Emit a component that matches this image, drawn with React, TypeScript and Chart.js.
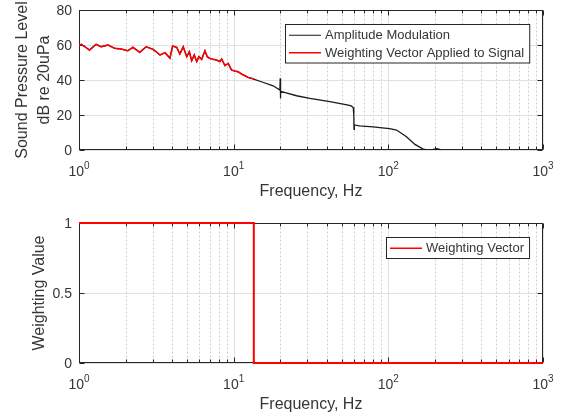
import React, { useEffect, useRef } from "react";
import { Chart, registerables } from "chart.js";

Chart.register(...registerables);

// ---- data ----
// Weighted part of the spectrum (1 Hz .. 13.6 Hz), shown in red
const lowFreqHz = [
  1.0, 1.035, 1.09, 1.17, 1.29, 1.39, 1.54, 1.7, 1.88, 2.07, 2.23, 2.47, 2.72, 3.01, 3.1, 3.34,
  3.6, 3.87, 4.03, 4.28, 4.49, 4.72, 4.97, 5.17, 5.35, 5.56, 5.77, 5.96, 6.21, 6.52, 6.75, 7.01,
  7.37, 7.75, 7.95, 8.15, 8.36, 8.78, 9.22, 9.69, 10.2, 10.7, 11.3, 11.8, 12.4, 13.0, 13.6,
];
const lowLevelDb = [
  59.6, 60.4, 59.0, 57.1, 60.4, 59.0, 60.0, 58.1, 57.7, 56.7, 58.7, 55.8, 59.0, 57.5, 56.7, 54.3,
  55.6, 52.5, 59.4, 58.7, 54.9, 59.0, 53.3, 56.2, 51.0, 54.3, 50.5, 53.3, 51.8, 56.7, 53.3, 52.4,
  51.8, 51.4, 50.9, 50.5, 52.0, 48.2, 49.5, 45.7, 45.1, 44.7, 43.3, 42.5, 41.5, 41.0, 40.4,
];
// Rest of the amplitude-modulation spectrum (13.6 Hz .. 220 Hz)
const highFreqHz = [
  15.1, 18.0, 19.9, 20.0, 20.05, 20.15, 25.5, 31.1, 41.9, 55.1, 57.5, 59.3, 59.8, 60.0, 60.3,
  65.0, 80.0, 88.0, 102, 113, 131, 148.6, 168, 180, 195, 206, 215, 220,
];
const highLevelDb = [
  39.0, 36.7, 34.3, 41.0, 29.5, 33.5, 31.0, 29.5, 27.6, 25.7, 25.2, 24.3, 20.0, 11.8, 14.3,
  13.8, 13.2, 12.8, 12.2, 11.4, 7.6, 3.2, 0.5, 0.0, 0.4, 0.8, 0.3, 0.0,
];
// Weighting vector
const weightFreqHz = [1, 13.5, 13.5, 1000];
const weightValue = [1, 1, 0, 0];

// Tick labels
const xDecadeTicks = [1, 10, 100, 1000];
const xTickExponents = ["0", "1", "2", "3"];
const splTicks = [0, 20, 40, 60, 80];
const splTickLabels = ["0", "20", "40", "60", "80"];
const weightTicks = [0, 0.5, 1];
const weightTickLabels = ["0", "0.5", "1"];

const FONT = '"Liberation Sans", Arial, Helvetica, sans-serif';
const TEXT = "#363636";
const AXIS = "#262626";

const toPoints = (xs: number[], ys: number[]) => xs.map((x, i) => ({ x, y: ys[i] }));

const matlabAxes = {
  id: "matlabAxes",
  beforeDatasetsDraw(chart: any, _args: any, opts: any) {
    const { ctx, chartArea: a, scales } = chart;
    const xs = scales.x;
    const ys = scales.y;
    const L = Math.round(a.left) + 0.5;
    const R = Math.round(a.right) - 0.5;
    const T = Math.round(a.top) + 0.5;
    const B = Math.round(a.bottom) - 0.5;
    ctx.save();
    ctx.fillStyle = "#ffffff";
    ctx.fillRect(a.left, a.top, a.width, a.height);
    ctx.lineWidth = 1;
    // minor dotted vertical grid
    const minors: number[] = [];
    for (const d of [1, 10, 100]) for (let k = 2; k <= 9; k++) minors.push(d * k);
    ctx.strokeStyle = "#cfcfcf";
    ctx.setLineDash([2, 2]);
    for (const v of minors) {
      const px = Math.round(xs.getPixelForValue(v)) + 0.5;
      ctx.beginPath();
      ctx.moveTo(px, T);
      ctx.lineTo(px, B);
      ctx.stroke();
    }
    ctx.setLineDash([]);
    // major grid
    ctx.strokeStyle = "#e0e0e0";
    for (const v of xDecadeTicks) {
      const px = Math.round(xs.getPixelForValue(v)) + 0.5;
      ctx.beginPath();
      ctx.moveTo(px, T);
      ctx.lineTo(px, B);
      ctx.stroke();
    }
    for (const v of opts.yTicks) {
      const py = Math.round(ys.getPixelForValue(v)) + 0.5;
      ctx.beginPath();
      ctx.moveTo(L, py);
      ctx.lineTo(R, py);
      ctx.stroke();
    }
    // ticks (inside)
    ctx.strokeStyle = AXIS;
    const major = 5;
    const minor = 3;
    for (const v of xDecadeTicks) {
      const px = Math.round(xs.getPixelForValue(v)) + 0.5;
      ctx.beginPath();
      ctx.moveTo(px, B);
      ctx.lineTo(px, B - major);
      ctx.moveTo(px, T);
      ctx.lineTo(px, T + major);
      ctx.stroke();
    }
    for (const v of minors) {
      const px = Math.round(xs.getPixelForValue(v)) + 0.5;
      ctx.beginPath();
      ctx.moveTo(px, B);
      ctx.lineTo(px, B - minor);
      ctx.moveTo(px, T);
      ctx.lineTo(px, T + minor);
      ctx.stroke();
    }
    for (const v of opts.yTicks) {
      const py = Math.round(ys.getPixelForValue(v)) + 0.5;
      ctx.beginPath();
      ctx.moveTo(L, py);
      ctx.lineTo(L + major, py);
      ctx.moveTo(R, py);
      ctx.lineTo(R - major, py);
      ctx.stroke();
    }
    // box
    ctx.strokeRect(L, T, R - L, B - T);
    ctx.restore();
  },
  afterDatasetsDraw(chart: any, _args: any, opts: any) {
    const { ctx, chartArea: a, scales } = chart;
    const xs = scales.x;
    const ys = scales.y;
    ctx.save();
    ctx.fillStyle = TEXT;
    // y tick labels
    ctx.font = `14px ${FONT}`;
    ctx.textAlign = "right";
    ctx.textBaseline = "middle";
    opts.yTicks.forEach((v: number, i: number) => {
      ctx.fillText(opts.yTickLabels[i], a.left - 7, ys.getPixelForValue(v) + 1);
    });
    // x tick labels 10^n
    ctx.textAlign = "left";
    ctx.textBaseline = "alphabetic";
    xDecadeTicks.forEach((v, i) => {
      ctx.font = `14px ${FONT}`;
      const w1 = ctx.measureText("10").width;
      ctx.font = `10px ${FONT}`;
      const w2 = ctx.measureText(xTickExponents[i]).width;
      const x0 = xs.getPixelForValue(v) - (w1 + w2) / 2;
      const by = a.bottom + 26;
      ctx.font = `14px ${FONT}`;
      ctx.fillText("10", x0, by);
      ctx.font = `10px ${FONT}`;
      ctx.fillText(xTickExponents[i], x0 + w1, by - 7);
    });
    // x title
    ctx.font = `16px ${FONT}`;
    ctx.textAlign = "center";
    ctx.fillText("Frequency, Hz", (a.left + a.right) / 2, a.bottom + 45.5);
    // y title (rotated)
    const cy = (a.top + a.bottom) / 2;
    opts.yTitle.forEach((line: string, i: number) => {
      ctx.save();
      ctx.translate(opts.yTitleX[i], cy);
      ctx.rotate(-Math.PI / 2);
      ctx.textAlign = "center";
      ctx.textBaseline = "alphabetic";
      ctx.fillText(line, 0, 0);
      ctx.restore();
    });
    // legend
    const items = opts.legend as { label: string; color: string; width: number }[];
    ctx.font = `13px ${FONT}`;
    const tw = Math.max(...items.map((it) => ctx.measureText(it.label).width));
    const rowH = 17.5;
    const bw = 4 + 32 + 4 + tw + 5;
    const bh = items.length * rowH + 3.5;
    const bx = Math.round(a.right - 14 - bw) + 0.5;
    const by = Math.round(a.top + 14) + 0.5;
    ctx.fillStyle = "#ffffff";
    ctx.fillRect(bx, by, bw, bh);
    ctx.strokeStyle = AXIS;
    ctx.lineWidth = 1;
    ctx.strokeRect(bx, by, bw, bh);
    items.forEach((it, i) => {
      const ry = by + 2 + rowH * (i + 0.5);
      ctx.strokeStyle = it.color;
      ctx.lineWidth = it.width;
      ctx.beginPath();
      ctx.moveTo(bx + 3.5, ry);
      ctx.lineTo(bx + 35.5, ry);
      ctx.stroke();
      ctx.fillStyle = TEXT;
      ctx.textAlign = "left";
      ctx.textBaseline = "middle";
      ctx.fillText(it.label, bx + 39.5, ry + 0.5);
    });
    ctx.restore();
  },
};

function useChart(ref: React.RefObject<HTMLCanvasElement>, build: () => any) {
  useEffect(() => {
    if (!ref.current) return;
    const chart = new Chart(ref.current, build());
    return () => chart.destroy();
  }, []);
}

export default function App() {
  const topRef = useRef<HTMLCanvasElement>(null);
  const botRef = useRef<HTMLCanvasElement>(null);

  useChart(topRef, () => ({
    type: "scatter",
    data: {
      datasets: [
        {
          label: "Amplitude Modulation",
          data: toPoints([...lowFreqHz, ...highFreqHz], [...lowLevelDb, ...highLevelDb]),
          showLine: true,
          borderColor: "#1a1a1a",
          borderWidth: 1.3,
          pointRadius: 0,
          order: 2,
        },
        {
          label: "Weighting Vector Applied to Signal",
          data: toPoints(lowFreqHz, lowLevelDb),
          showLine: true,
          borderColor: "#ff0000",
          borderWidth: 1.5,
          pointRadius: 0,
          order: 1,
        },
      ],
    },
    options: {
      responsive: false,
      animation: false,
      layout: { padding: { left: 79, right: 22, top: 10, bottom: 50 } },
      scales: {
        x: { type: "logarithmic", min: 1, max: 1000, display: false },
        y: { type: "linear", min: 0, max: 80, display: false },
      },
      plugins: {
        legend: { display: false },
        tooltip: { enabled: false },
        matlabAxes: {
          yTicks: splTicks,
          yTickLabels: splTickLabels,
          yTitle: ["Sound Pressure Level", "dB re 20uPa"],
          yTitleX: [26.5, 49],
          legend: [
            { label: "Amplitude Modulation", color: "#1a1a1a", width: 1 },
            { label: "Weighting Vector Applied to Signal", color: "#ff0000", width: 1.5 },
          ],
        },
      },
    },
    plugins: [matlabAxes],
  }));

  useChart(botRef, () => ({
    type: "scatter",
    data: {
      datasets: [
        {
          label: "Weighting Vector",
          data: toPoints(weightFreqHz, weightValue),
          showLine: true,
          borderColor: "#ff0000",
          borderWidth: 2,
          pointRadius: 0,
          clip: 3,
        },
      ],
    },
    options: {
      responsive: false,
      animation: false,
      layout: { padding: { left: 79, right: 22, top: 23, bottom: 54 } },
      scales: {
        x: { type: "logarithmic", min: 1, max: 1000, display: false },
        y: { type: "linear", min: 0, max: 1, display: false },
      },
      plugins: {
        legend: { display: false },
        tooltip: { enabled: false },
        matlabAxes: {
          yTicks: weightTicks,
          yTickLabels: weightTickLabels,
          yTitle: ["Weighting Value"],
          yTitleX: [43.5],
          legend: [{ label: "Weighting Vector", color: "#ff0000", width: 1.5 }],
        },
      },
    },
    plugins: [matlabAxes],
  }));

  return (
    <div
      style={{
        position: "absolute",
        left: 0,
        top: 0,
        width: 565,
        height: 417,
        background: "#ffffff",
        overflow: "hidden",
      }}
    >
      <canvas
        ref={topRef}
        width={565}
        height={200}
        style={{ position: "absolute", left: 0, top: 0, width: 565, height: 200 }}
      />
      <canvas
        ref={botRef}
        width={565}
        height={217}
        style={{ position: "absolute", left: 0, top: 200, width: 565, height: 217 }}
      />
    </div>
  );
}
